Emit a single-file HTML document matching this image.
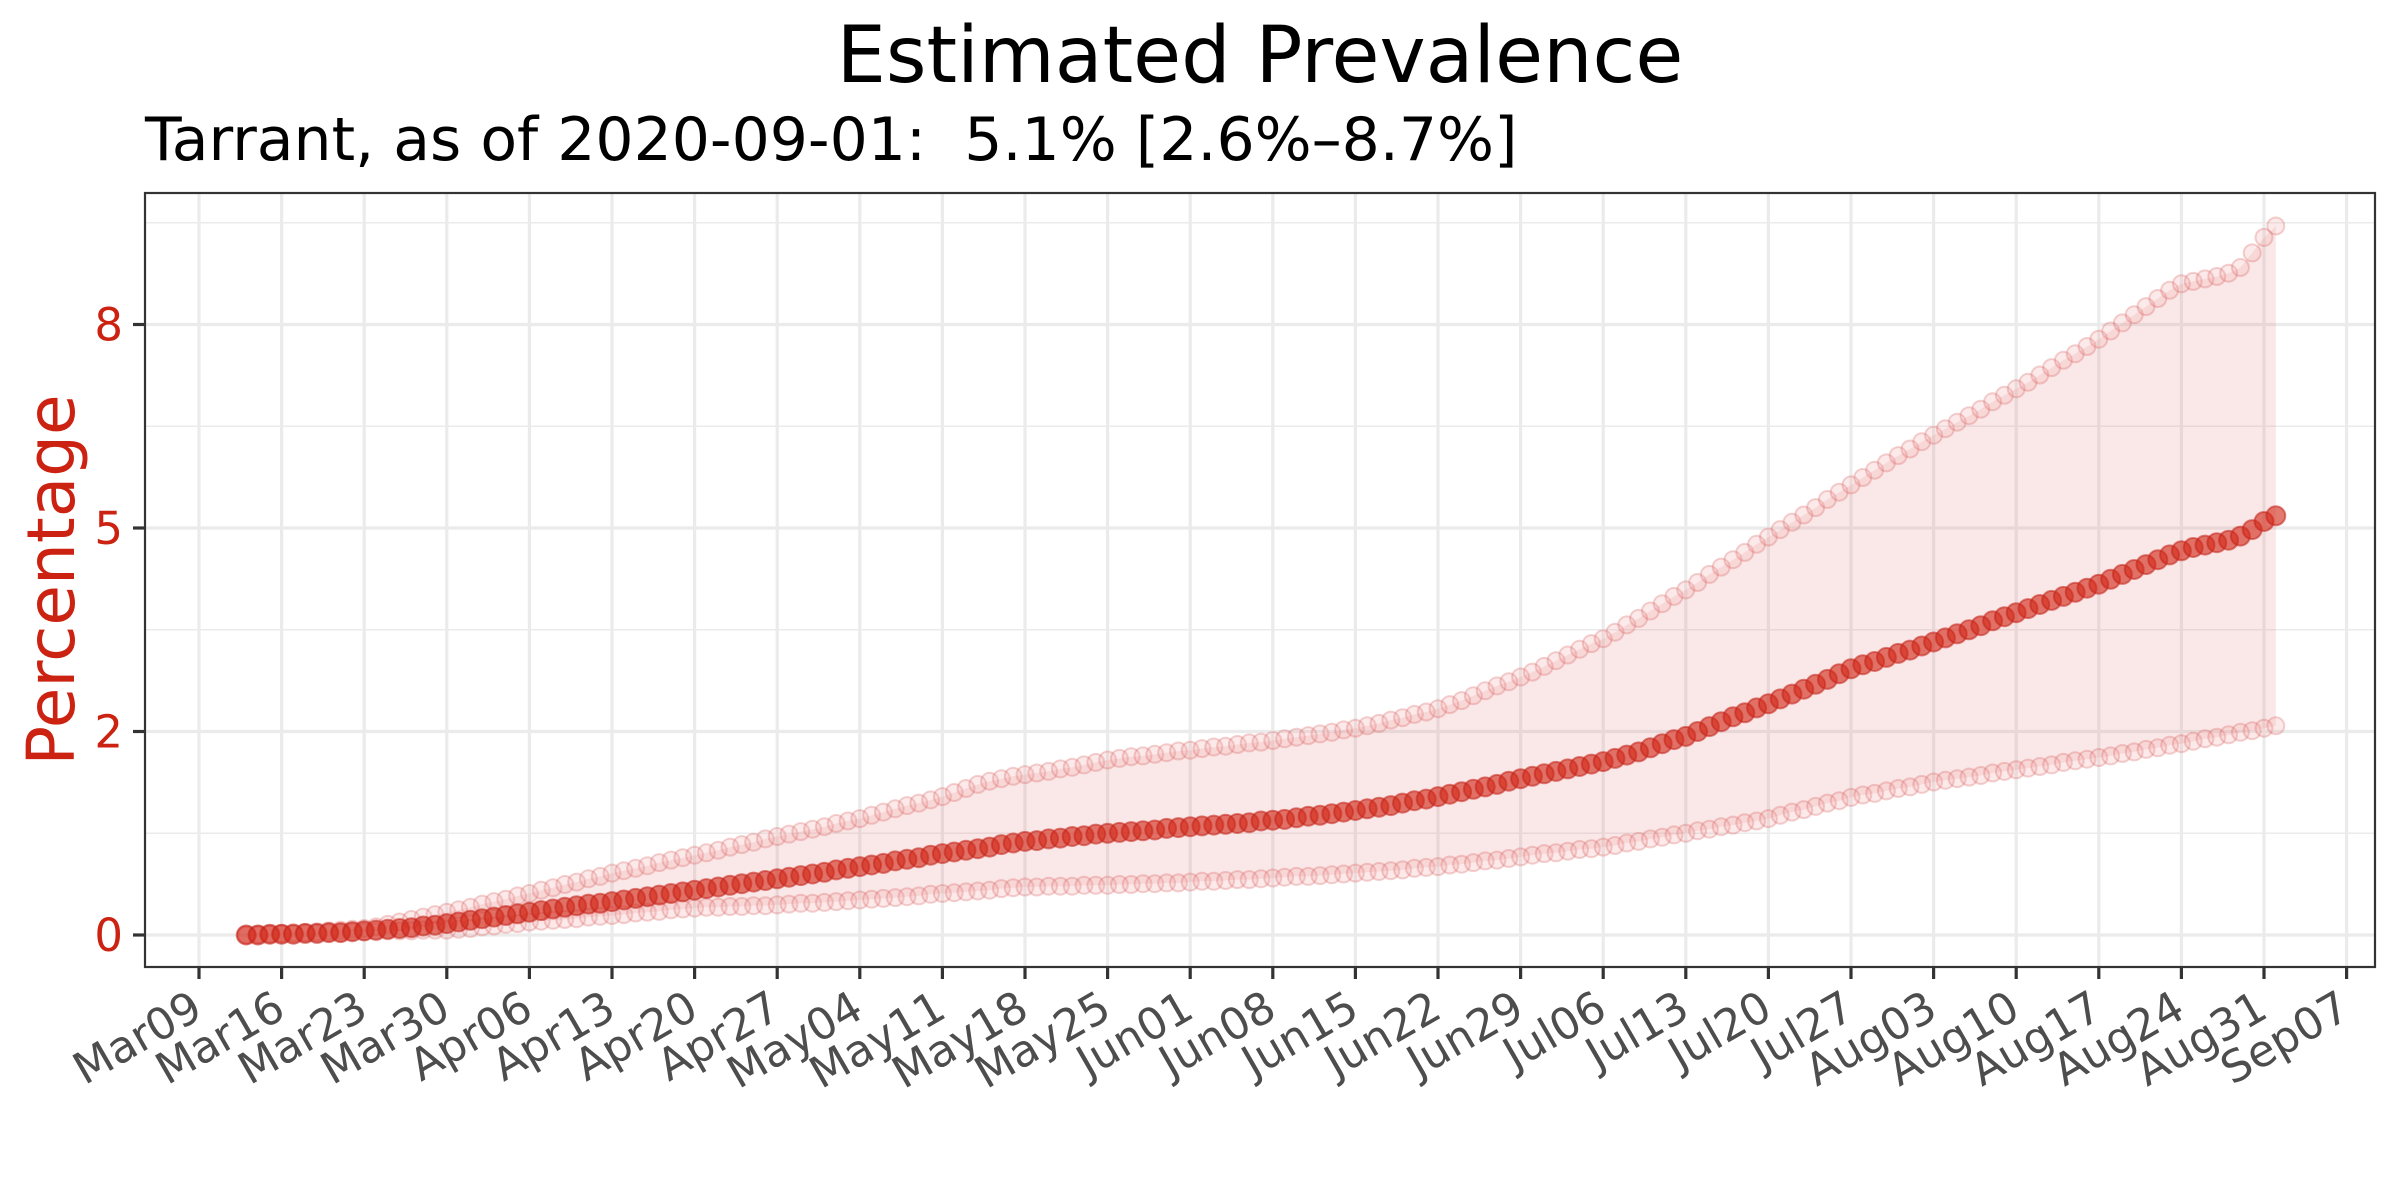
<!DOCTYPE html>
<html><head><meta charset="utf-8"><style>
html,body{margin:0;padding:0;background:#fff;}
svg{display:block;font-family:"DejaVu Sans","Liberation Sans",sans-serif;}
</style></head><body>
<svg id="chart" width="2400" height="1200" viewBox="0 0 2400 1200" xmlns="http://www.w3.org/2000/svg">
<rect width="2400" height="1200" fill="#fff"/>
<text x="1260" y="82" font-size="78" text-anchor="middle" fill="#000">Estimated Prevalence</text>
<text x="145" y="160" font-size="60" fill="#000" style="white-space:pre">Tarrant, as of 2020-09-01:&#160; 5.1% [2.6%–8.7%]</text>
<text x="0" y="0" font-size="66" fill="#cc2211" text-anchor="middle" transform="translate(74,580) rotate(-90)">Percentage</text>
<g id="grid"></g><g id="marks"></g><g id="axes"></g>
</svg>
<script>
const startOffset = 4; // data begins Mar13 (Mar09 + 4 days)
const xTickLabels = ["Mar09","Mar16","Mar23","Mar30","Apr06","Apr13","Apr20","Apr27","May04","May11","May18","May25","Jun01","Jun08","Jun15","Jun22","Jun29","Jul06","Jul13","Jul20","Jul27","Aug03","Aug10","Aug17","Aug24","Aug31","Sep07"];
const yTickValues = [0,2.5,5,7.5];
const yTickLabels = ["0","2","5","8"];
const meanValues = [0.00,0.00,0.01,0.01,
0.01,0.02,0.02,0.03,0.03,0.04,0.05,
0.06,0.07,0.08,0.09,0.11,0.12,0.14,
0.16,0.18,0.20,0.22,0.24,0.26,0.28,
0.30,0.32,0.34,0.36,0.38,0.39,0.41,
0.43,0.45,0.47,0.49,0.51,0.53,0.55,
0.57,0.59,0.61,0.63,0.65,0.67,0.69,
0.71,0.73,0.75,0.77,0.80,0.82,0.84,
0.86,0.88,0.91,0.93,0.95,0.98,1.00,
1.02,1.04,1.06,1.08,1.11,1.13,1.15,
1.16,1.18,1.19,1.21,1.22,1.24,1.25,
1.26,1.27,1.28,1.29,1.31,1.32,1.33,
1.34,1.35,1.36,1.37,1.38,1.40,1.41,
1.42,1.44,1.46,1.47,1.49,1.51,1.53,
1.55,1.57,1.59,1.62,1.65,1.67,1.70,
1.73,1.76,1.79,1.82,1.85,1.89,1.92,
1.95,1.98,2.01,2.04,2.07,2.10,2.13,
2.17,2.21,2.25,2.30,2.35,2.40,2.44,
2.50,2.56,2.62,2.68,2.73,2.79,2.84,
2.90,2.96,3.02,3.08,3.14,3.21,3.27,
3.32,3.36,3.41,3.46,3.50,3.55,3.60,
3.65,3.70,3.75,3.80,3.86,3.91,3.96,
4.01,4.06,4.11,4.16,4.21,4.26,4.31,
4.37,4.43,4.49,4.55,4.61,4.67,4.72,
4.76,4.79,4.82,4.85,4.90,4.98,5.08,
5.15];
const upperValues = [0.00,0.01,0.01,0.02,
0.03,0.03,0.04,0.05,0.06,0.07,0.08,
0.10,0.13,0.16,0.19,0.22,0.25,0.28,
0.31,0.34,0.38,0.41,0.44,0.48,0.51,
0.55,0.58,0.62,0.65,0.69,0.72,0.76,
0.79,0.82,0.85,0.89,0.92,0.95,0.98,
1.01,1.04,1.08,1.11,1.14,1.18,1.21,
1.24,1.27,1.30,1.33,1.37,1.40,1.43,
1.47,1.51,1.55,1.59,1.62,1.66,1.70,
1.75,1.80,1.85,1.89,1.92,1.95,1.97,
1.99,2.01,2.04,2.06,2.09,2.12,2.15,
2.17,2.19,2.20,2.22,2.24,2.26,2.27,
2.29,2.31,2.32,2.34,2.36,2.37,2.39,
2.41,2.43,2.45,2.47,2.49,2.52,2.54,
2.57,2.60,2.64,2.67,2.71,2.74,2.78,
2.83,2.88,2.94,3.00,3.06,3.11,3.17,
3.23,3.30,3.37,3.44,3.51,3.58,3.64,
3.72,3.81,3.89,3.98,4.07,4.16,4.24,
4.33,4.43,4.52,4.61,4.70,4.80,4.89,
4.98,5.07,5.16,5.25,5.35,5.44,5.53,
5.62,5.71,5.80,5.89,5.97,6.06,6.14,
6.22,6.30,6.38,6.46,6.55,6.63,6.71,
6.79,6.88,6.97,7.06,7.14,7.23,7.32,
7.42,7.52,7.62,7.72,7.82,7.92,8.00,
8.03,8.06,8.09,8.13,8.20,8.38,8.57,
8.71];
const lowerValues = [0.00,0.00,0.01,0.01,
0.01,0.02,0.02,0.03,0.03,0.04,0.04,
0.04,0.05,0.05,0.05,0.06,0.06,0.06,
0.07,0.08,0.10,0.11,0.13,0.14,0.16,
0.17,0.18,0.19,0.20,0.22,0.23,0.24,
0.25,0.27,0.28,0.29,0.31,0.32,0.33,
0.34,0.34,0.35,0.35,0.36,0.36,0.37,
0.38,0.39,0.39,0.40,0.41,0.42,0.43,
0.44,0.45,0.46,0.47,0.48,0.50,0.51,
0.52,0.53,0.54,0.55,0.57,0.58,0.59,
0.59,0.60,0.60,0.60,0.61,0.61,0.61,
0.62,0.62,0.63,0.63,0.64,0.64,0.65,
0.66,0.66,0.67,0.68,0.68,0.69,0.70,
0.71,0.72,0.72,0.73,0.74,0.75,0.76,
0.77,0.78,0.79,0.80,0.82,0.83,0.84,
0.86,0.87,0.89,0.91,0.92,0.94,0.96,
0.98,1.00,1.01,1.03,1.05,1.06,1.08,
1.10,1.13,1.15,1.18,1.20,1.23,1.25,
1.28,1.30,1.33,1.35,1.38,1.40,1.43,
1.47,1.51,1.54,1.58,1.62,1.65,1.69,
1.72,1.74,1.77,1.80,1.82,1.85,1.88,
1.90,1.92,1.94,1.96,1.99,2.01,2.03,
2.05,2.07,2.09,2.12,2.14,2.16,2.18,
2.20,2.23,2.25,2.28,2.30,2.33,2.35,
2.38,2.41,2.43,2.46,2.49,2.51,2.54,
2.57];

const NS = "http://www.w3.org/2000/svg";
const P = {l:145, t:193, r:2375, b:967};
const X0 = 199, DAYPX = 11.8;
function xScale(day){ return X0 + day*DAYPX; }
function yScale(v){ return 935 - 81.4*v; }
function mk(tag, attrs, parent){
  const e = document.createElementNS(NS, tag);
  for (const k in attrs) e.setAttribute(k, attrs[k]);
  parent.appendChild(e); return e;
}
const grid = document.getElementById('grid');
const marks = document.getElementById('marks');
const axes = document.getElementById('axes');

const bg = mk('rect',{x:P.l,y:P.t,width:P.r-P.l,height:P.b-P.t,fill:'#fff'},grid);


for (let i=0;i<yTickValues.length;i++){
  const y = yScale(yTickValues[i]+1.25);
  const l = mk('line',{x1:P.l,x2:P.r,y1:y,y2:y,stroke:'#ebebeb','stroke-width':1.6},grid);
  
  
}
for (let i=0;i<yTickValues.length;i++){
  const y = yScale(yTickValues[i]);
  const l = mk('line',{x1:P.l,x2:P.r,y1:y,y2:y,stroke:'#ebebeb','stroke-width':3.2},grid);
  
  
}
for (let i=0;i<xTickLabels.length;i++){
  const x = xScale(i*7);
  const l = mk('line',{x1:x,x2:x,y1:P.t,y2:P.b,stroke:'#ebebeb','stroke-width':3.2},grid);
  
  
}

let d = '';
for (let i=0;i<upperValues.length;i++) d += (i?'L':'M') + xScale(i+startOffset).toFixed(1) + ' ' + yScale(upperValues[i]).toFixed(1);
for (let i=lowerValues.length-1;i>=0;i--) d += 'L' + xScale(i+startOffset).toFixed(1) + ' ' + yScale(lowerValues[i]).toFixed(1);
d += 'Z';
const rib = mk('path',{d:d,fill:'rgba(225,110,110,0.17)'},marks);



function series(vals, name, fill, stroke, r){
  const g = mk('g',{},marks);
  
  
  for (let i=0;i<vals.length;i++){
    const c = mk('circle',{cx:xScale(i+startOffset).toFixed(1),cy:yScale(vals[i]).toFixed(1),r:r,fill:fill,stroke:stroke,'stroke-width':2},g);
    
    
  }
}
series(upperValues,'upper-bound-series','rgba(240,160,160,0.22)','rgba(215,90,90,0.28)',8.5);
series(lowerValues,'lower-bound-series','rgba(240,160,160,0.22)','rgba(215,90,90,0.28)',8.5);
series(meanValues,'estimate-series','rgba(210,40,25,0.62)','rgba(195,35,25,0.55)',9.5);

const border = mk('rect',{x:P.l,y:P.t,width:P.r-P.l,height:P.b-P.t,fill:'none',stroke:'#333','stroke-width':2.2},axes);



for (let i=0;i<yTickValues.length;i++){
  const y = yScale(yTickValues[i]);
  const t = mk('line',{x1:P.l-12,x2:P.l,y1:y,y2:y,stroke:'#333','stroke-width':3.2},axes);
  
  
  const tx = mk('text',{x:P.l-22,y:y+16,'font-size':45,'text-anchor':'end',fill:'#cc2211'},axes);
  tx.textContent = yTickLabels[i];
  
  
}
for (let i=0;i<xTickLabels.length;i++){
  const x = xScale(i*7);
  const t = mk('line',{x1:x,x2:x,y1:P.b,y2:P.b+12,stroke:'#333','stroke-width':3.2},axes);
  
  
  const ax = x+6, ay = 1016;
  const tx = mk('text',{x:ax,y:ay,'font-size':44,'text-anchor':'end',fill:'#4d4d4d',transform:'rotate(-30 '+ax+' '+ay+')'},axes);
  tx.textContent = xTickLabels[i];
  
  
}
</script>
</body></html>
